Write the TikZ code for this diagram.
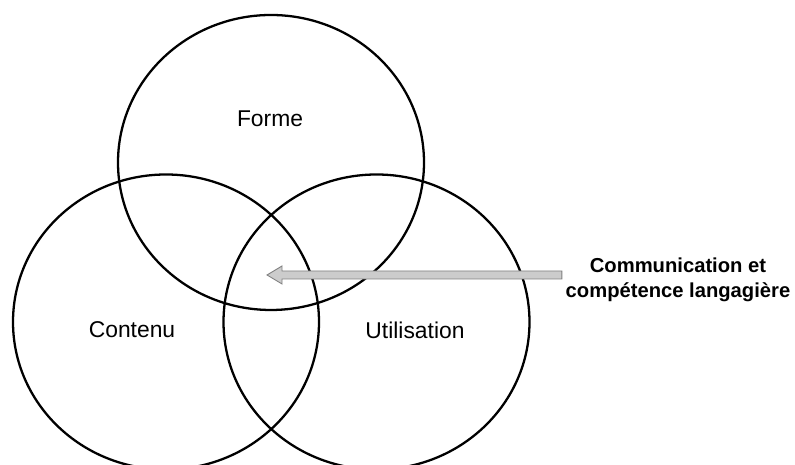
\documentclass[tikz,border=0pt]{standalone}
\usepackage{fontspec}
\setmainfont{Liberation Sans}
\usepackage{tikz}
\usetikzlibrary{calc}

\begin{document}
\begin{tikzpicture}[x=0.02cm, y=0.02cm,
	rond/.style = {line width = 1.3pt},
	etiquette/.style = {font = \fontsize{13}{15}\selectfont},
	fleche/.style = {fill = black!20, draw = black!50, line width = 0.5pt}]
\useasboundingbox (0,0) rectangle (795,465);

\draw[rond] (271,302.5) ellipse [x radius = 153, y radius = 147.5];
\draw[rond] (166,143) ellipse [x radius = 153, y radius = 147.5];
\draw[rond] (376.5,143) ellipse [x radius = 153, y radius = 147.5];

\node[etiquette] (forme) at (270,346) {Forme};
\node[etiquette] (contenu) at (132,135) {Contenu};
\node[etiquette] (utilisation) at (415,135) {Utilisation};

\node[align = center, font = \fontsize{11.5}{14.2}\selectfont\bfseries, inner sep = 2pt] (comm) at (678,185) {Communication et\\compétence langagière};

\coordinate (tip) at (267,190);
\coordinate (tail) at (comm.west |- tip);
\filldraw[fleche] ($(tail)+(0,4)$) -- ($(tip)+(15,4)$) -- ($(tip)+(15,9)$) -- (tip)
	-- ($(tip)+(15,-9)$) -- ($(tip)+(15,-4)$) -- ($(tail)+(0,-4)$) -- cycle;
\end{tikzpicture}
\end{document}
